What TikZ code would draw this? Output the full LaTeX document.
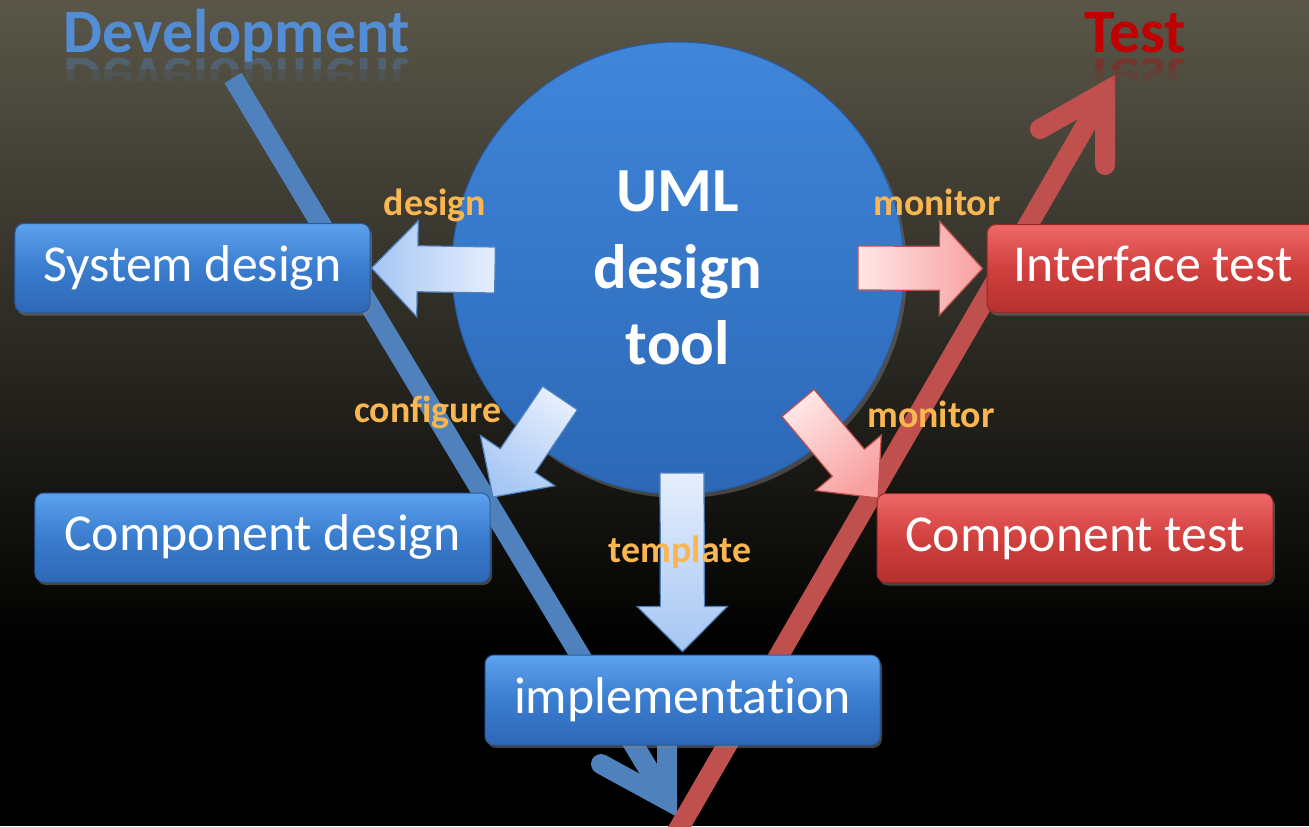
\documentclass[tikz,border=0pt]{standalone}
\usepackage{fontspec}
\setmainfont{Carlito}[Ligatures=NoCommon]
\usetikzlibrary{calc,shadows}

\definecolor{bgtop}{RGB}{90,87,73}
\definecolor{devblue}{RGB}{79,129,189}
\definecolor{testred}{RGB}{192,80,77}
\definecolor{titleblue}{RGB}{83,141,213}
\definecolor{titlered}{RGB}{192,0,0}
\definecolor{hubtop}{RGB}{64,134,218}
\definecolor{hubbot}{RGB}{44,104,182}
\definecolor{hubedge}{RGB}{40,92,165}
\definecolor{bbtop}{RGB}{92,162,238}
\definecolor{bbmid}{RGB}{58,124,206}
\definecolor{bbbot}{RGB}{46,104,182}
\definecolor{bbedge}{RGB}{40,90,160}
\definecolor{rbtop}{RGB}{238,104,104}
\definecolor{rbmid}{RGB}{208,64,62}
\definecolor{rbbot}{RGB}{182,48,46}
\definecolor{rbedge}{RGB}{150,40,38}
\definecolor{arrblueL}{RGB}{230,238,252}
\definecolor{arrblueD}{RGB}{166,198,244}
\definecolor{arrpinkL}{RGB}{255,230,230}
\definecolor{arrpinkD}{RGB}{248,160,160}
\definecolor{labelorange}{RGB}{250,182,80}

\tikzset{
  vline/.style={line width=20bp, draw=#1, line cap=butt},
  vhead/.style={line width=20bp, draw=#1, line cap=round, line join=miter},
  boxbase/.style={rectangle, rounded corners=9bp, text=white,
    font=\fontsize{52}{60}\selectfont, text height=36bp, text depth=10bp,
    inner sep=0pt, line width=1bp,
    drop shadow={shadow xshift=2bp, shadow yshift=-3bp, opacity=0.5}},
  devbox/.style={boxbase, draw=bbedge, top color=bbtop, bottom color=bbbot, middle color=bbmid},
  testbox/.style={boxbase, draw=rbedge, top color=rbtop, bottom color=rbbot, middle color=rbmid},
  bluearrow/.style={draw=devblue, line width=1.2bp, top color=arrblueL, bottom color=arrblueD, shading angle=#1},
  pinkarrow/.style={draw=testred, line width=1.2bp, top color=arrpinkL, bottom color=arrpinkD, shading angle=#1},
  flowlabel/.style={text=labelorange, font=\bfseries\fontsize{38}{44}\selectfont, inner sep=0pt},
  titletext/.style={font=\bfseries\fontsize{62}{70}\selectfont, inner sep=0pt, anchor=base},
}

% block arrow: name, style, tail, tip, shaft half-width, head half-width, head length
\newcommand\flowarrow[7]{%
  \coordinate (#1-neck) at ($(#4)!#7!(#3)$);
  \path[#2] ($(#3)!#5!90:(#4)$) -- ($(#1-neck)!#5!-90:(#3)$)
    -- ($(#1-neck)!#6!-90:(#3)$) -- (#4) -- ($(#1-neck)!#6!90:(#3)$)
    -- ($(#1-neck)!#5!90:(#3)$) -- ($(#3)!#5!-90:(#4)$) -- cycle;
}

\begin{document}
\begin{tikzpicture}[x=1bp,y=-1bp]
\useasboundingbox (0,0) rectangle (1309,826);
\clip (0,0) rectangle (1309,826);

% backdrop
\fill[top color=bgtop, bottom color=black] (0,0) rectangle (1309,650);
\fill[black] (0,649) rectangle (1309,826);

% the V: development leg and test leg
\coordinate (devtop) at (233,78);
\coordinate (devapex) at (667,800);
\coordinate (devarmL) at (601,764);
\coordinate (devarmU) at (667,727);
\draw[vline=devblue] (devtop) -- (devapex);
\draw[vhead=devblue] (devarmL) -- (devapex) -- (devarmU);

\coordinate (testfoot) at (675,835);
\coordinate (testapex) at (1105,92);
\coordinate (testarmD) at (1105,165);
\coordinate (testarmL) at (1040,129);
\draw[vline=testred] (testfoot) -- (testapex);
\draw[vhead=testred] (testarmD) -- (testapex) -- (testarmL);

% central tool
\node[circle, minimum size=452bp, inner sep=0pt, draw=hubedge, line width=1bp,
      top color=hubtop, bottom color=hubbot,
      drop shadow={shadow xshift=3bp, shadow yshift=-4bp, opacity=0.45},
      text=white, font=\bfseries\fontsize{63}{77}\selectfont, align=center]
      (hub) at (678,268) {UML\\design\\tool};

% phase boxes
\node[devbox, minimum width=355bp, minimum height=89bp] (sysdesign) at (192.5,268) {System design};
\node[devbox, minimum width=455bp, minimum height=89bp] (compdesign) at (262.5,537.5) {Component design};
\node[devbox, minimum width=395bp, minimum height=90bp] (impl) at (682.5,700) {implementation};
\node[testbox, minimum width=332bp, minimum height=88bp] (ifacetest) at (1153,268.5) {Interface test};
\node[testbox, minimum width=396bp, minimum height=89bp] (comptest) at (1075,538) {Component test};

% block arrows from the tool
\coordinate (designTail) at (495,270);
\coordinate (designTip) at ([xshift=1bp]sysdesign.east);
\flowarrow{designarrow}{bluearrow=-90}{designTail}{designTip}{23bp}{48bp}{46bp}

\coordinate (monTail) at (858,268);
\coordinate (monTip) at ([xshift=-4bp]ifacetest.west);
\flowarrow{monarrow}{pinkarrow=90}{monTail}{monTip}{22bp}{47bp}{43bp}

\coordinate (cfgTail) at (560,398);
\coordinate (cfgTip) at (493,497);
\flowarrow{cfgarrow}{bluearrow=-34}{cfgTail}{cfgTip}{21bp}{45bp}{44bp}

\coordinate (mon2Tail) at (798,403);
\coordinate (mon2Tip) at (878,498);
\flowarrow{mon2arrow}{pinkarrow=40}{mon2Tail}{mon2Tip}{21bp}{43bp}{46bp}

\coordinate (tplTail) at (682,473);
\coordinate (tplTip) at ([yshift=3bp]impl.north);
\flowarrow{tplarrow}{bluearrow=0}{tplTail}{tplTip}{22bp}{45bp}{45bp}

% arrow labels
\node[flowlabel] (designlabel) at (435,205) {design};
\node[flowlabel] (monitorlabelA) at (937,202) {monitor};
\node[flowlabel] (configurelabel) at (428,412) {configure};
\node[flowlabel] (monitorlabelB) at (931,414) {monitor};
\node[flowlabel] (templatelabel) at (680,552) {template};

% headings with a faint reflection below the baseline
\node[titletext, text=titleblue] (devtitle) at (237,52) {Development};
\node[titletext, text=titlered] (testtitle) at (1135,52) {Test};

\begin{scope}
  \clip (0,58) rectangle (1309,68);
  \begin{scope}[shift={(237,58)}, yscale=-1]
    \node[titletext, text=titleblue, opacity=0.3, transform shape] (devmirror) at (0,0) {Development};
  \end{scope}
  \begin{scope}[shift={(1135,58)}, yscale=-1]
    \node[titletext, text=titlered, opacity=0.3, transform shape] (testmirror) at (0,0) {Test};
  \end{scope}
\end{scope}
\begin{scope}
  \clip (0,68) rectangle (1309,80);
  \begin{scope}[shift={(237,58)}, yscale=-1]
    \node[titletext, text=titleblue, opacity=0.12, transform shape] (devmirrorfade) at (0,0) {Development};
  \end{scope}
  \begin{scope}[shift={(1135,58)}, yscale=-1]
    \node[titletext, text=titlered, opacity=0.12, transform shape] (testmirrorfade) at (0,0) {Test};
  \end{scope}
\end{scope}
\end{tikzpicture}
\end{document}
